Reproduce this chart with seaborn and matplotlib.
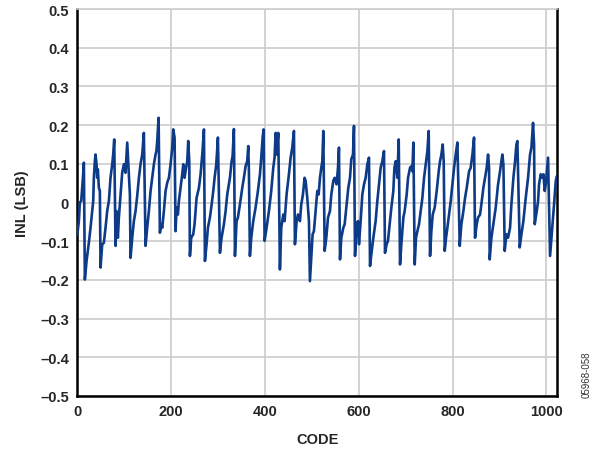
import matplotlib
matplotlib.use("Agg")
import matplotlib.pyplot as plt
import seaborn as sns
import pandas as pd
from matplotlib.ticker import FuncFormatter

# ---- data (vertices of the INL trace) ----
code = [
    0, 3.2, 5.3, 8.2, 10.3, 12.4, 13.9, 16,
    19.6, 22.4, 24.5, 28.1, 31.6, 33.8, 35.2, 37.3, 38.7, 40.9, 42.3, 43.7, 45.9, 48.0, 49.4,
    53.0, 56.5, 60.1, 63.6, 67.2, 70.7, 74.3, 76.4, 78.6, 81.4,
    83.5, 86.4, 88.5, 92.1, 95.6, 99.2, 102.7, 106.3, 108.4, 112.0, 113.4,
    117.0, 120.5, 124.1, 127.6, 131.2, 134.7, 138.3, 141.8, 145.4,
    148.9, 152.5, 156.1, 159.6, 163.2, 166.7, 168.5, 170.3, 173.2, 176.0,
    178.8, 181.0, 184.5, 188.1, 191.6, 195.2, 198.8, 202.3, 204.4, 207.3, 209.4,
    211.5, 214.4, 216.5, 220.1, 223.6, 225.8, 228.6, 230.7, 234.3, 236.4, 238.6, 240.0,
    242.8, 247.1, 249.9, 254.2, 259.2, 262.7, 266.3, 269.9, 272.0,
    275.5, 278.4, 282.6, 285.5, 289.8, 292.6, 296.2, 299.7, 304.0,
    307.5, 312.5, 316.1, 319.6, 325.3, 328.9, 331.0, 333.8, 336.0,
    339.5, 342.3, 346.6, 351.6, 355.1, 358.7, 362.2, 364.4, 365.8, 367.9,
    370.8, 375.0, 380.0, 385.0, 389.3, 392.1, 395.0, 397.1, 399.2,
    403.5, 408.5, 413.4, 417.7, 420.5, 422.7, 424.8, 428.4, 431.9,
    434.8, 439.0, 441.9, 446.1, 451.1, 454.7, 458.2, 461.8, 463.9,
    467.5, 470.3, 474.6, 477.4, 481.0, 484.5, 486.7, 490.2, 493.8, 495.9,
    498.8, 501.6, 504.4, 508.0, 511.6, 514.5, 517.3, 520.1, 522.3, 524.4, 527.3,
    530.8, 534.4, 538.6, 541.5, 545.7, 548.6, 552.8, 555.7, 557.8, 560.0,
    562.8, 567.1, 569.9, 574.2, 577.7, 581.3, 584.1, 587.7, 589.8, 592.0,
    595.5, 598.4, 600.5, 604.0, 607.6, 611.2, 614.7, 618.3, 621.8, 624.0,
    626.8, 631.1, 636.0, 639.6, 643.1, 646.7, 650.3, 653.8, 655.9,
    659.5, 662.3, 666.6, 669.5, 673.7, 676.0, 679.0, 682.3, 685.2, 688.0,
    690.8, 695.1, 697.9, 702.2, 705.1, 709.3, 712.2, 714.3, 716.4, 719.3,
    722.1, 725.0, 728.5, 732.1, 735.6, 739.2, 742.7, 746.3, 749.1, 752.0,
    754.8, 757.7, 761.9, 766.2, 770.5, 773.3, 776.2, 779.0, 781.1, 783.3,
    786.1, 789.0, 792.5, 796.1, 799.6, 803.2, 806.7, 810.3, 815.3,
    818.8, 823.1, 826.6, 830.2, 835.2, 838.7, 842.3, 844.4, 845.8, 847.9,
    851.5, 854.3, 858.6, 861.4, 865.7, 869.3, 872.8, 875.7, 877.8, 879.2,
    882.8, 887.0, 892.0, 897.0, 901.3, 904.1, 906.2, 908.4, 911.2,
    914.8, 918.3, 922.6, 925.4, 929.7, 933.3, 936.1, 938.2, 943.2,
    946.8, 951.0, 956.0, 961.0, 965.2, 968.1, 971.6, 973.8, 975.2,
    979.5, 982.3, 984.4, 988.0, 991.6, 993.7, 996.5, 998.7, 1003.6, 1007.9,
    1010.8, 1013.6, 1016.4, 1020.0, 1022.1,
]
inl = [
    -0.082, -0.048, 0.000, 0.004, 0.038, 0.073, 0.103, -0.199,
    -0.151, -0.125, -0.104, -0.065, -0.022, 0.004, 0.064, 0.107, 0.124, 0.099, 0.064, 0.086, 0.038, 0.030, -0.168,
    -0.108, -0.104, -0.065, -0.022, 0.004, 0.064, 0.099, 0.124, 0.163, -0.112,
    -0.022, -0.091, -0.039, 0.021, 0.077, 0.099, 0.077, 0.155, 0.107, 0.021, -0.143,
    -0.091, -0.048, -0.022, 0.017, 0.064, 0.099, 0.124, 0.180, -0.112,
    -0.065, -0.022, 0.030, 0.064, 0.099, 0.124, 0.133, 0.159, 0.219, -0.078,
    -0.056, -0.065, -0.022, 0.030, 0.051, 0.064, 0.099, 0.142, 0.189, 0.168, -0.074,
    -0.013, -0.031, 0.004, 0.038, 0.073, 0.099, 0.064, 0.081, 0.107, 0.159, 0.107, -0.138,
    -0.091, -0.082, -0.056, 0.012, 0.038, 0.073, 0.124, 0.189, -0.151,
    -0.108, -0.065, -0.039, -0.013, 0.030, 0.064, 0.099, 0.168, -0.130,
    -0.091, -0.056, -0.022, 0.021, 0.064, 0.107, 0.120, 0.190, -0.138,
    -0.048, -0.039, -0.005, 0.038, 0.064, 0.094, 0.107, 0.146, 0.081, -0.138,
    -0.091, -0.048, -0.013, 0.030, 0.073, 0.116, 0.168, 0.189, -0.099,
    -0.065, -0.022, 0.030, 0.090, 0.116, 0.180, 0.124, 0.180, -0.173,
    -0.065, -0.031, -0.048, 0.021, 0.073, 0.116, 0.142, 0.185, -0.108,
    -0.048, -0.031, -0.048, -0.005, 0.021, 0.064, 0.056, 0.012, -0.048, -0.203,
    -0.143, -0.082, -0.074, -0.022, 0.030, 0.021, 0.064, 0.090, 0.107, 0.185, -0.125,
    -0.091, -0.039, -0.022, 0.021, 0.056, 0.064, 0.047, 0.090, 0.142, -0.147,
    -0.091, -0.065, -0.056, -0.005, 0.038, 0.064, 0.112, 0.124, 0.198, -0.138,
    -0.056, -0.048, -0.108, -0.048, 0.021, 0.047, 0.064, 0.099, 0.116, -0.164,
    -0.134, -0.091, -0.048, 0.004, 0.047, 0.090, 0.107, 0.133, -0.130,
    -0.108, -0.099, -0.048, -0.013, 0.030, 0.090, 0.107, 0.064, 0.163, -0.160,
    -0.108, -0.039, -0.022, 0.021, 0.064, 0.090, 0.094, 0.081, 0.155, -0.160,
    -0.091, -0.074, -0.056, -0.022, 0.012, 0.064, 0.099, 0.133, 0.185, -0.138,
    -0.074, -0.031, -0.013, 0.030, 0.081, 0.107, 0.124, 0.150, 0.107, -0.125,
    -0.091, -0.065, -0.031, 0.004, 0.047, 0.090, 0.124, 0.155, -0.112,
    -0.056, -0.022, 0.012, 0.038, 0.081, 0.090, 0.124, 0.150, 0.168, -0.091,
    -0.056, -0.039, -0.031, -0.005, 0.038, 0.064, 0.090, 0.124, 0.090, -0.147,
    -0.091, -0.056, -0.013, 0.047, 0.081, 0.107, 0.124, 0.099, -0.125,
    -0.082, -0.091, -0.065, -0.005, 0.064, 0.107, 0.150, 0.159, -0.116,
    -0.082, -0.048, 0.012, 0.064, 0.124, 0.142, 0.206, 0.150, -0.056,
    -0.022, 0.004, 0.047, 0.073, 0.064, 0.073, 0.030, 0.047, 0.116, -0.138,
    -0.091, -0.048, -0.005, 0.055, 0.068,
]

x_ticks = [0, 200, 400, 600, 800, 1000]
y_ticks = [-0.5, -0.4, -0.3, -0.2, -0.1, 0, 0.1, 0.2, 0.3, 0.4, 0.5]

df = pd.DataFrame({"CODE": code, "INL": inl})

sns.set_theme(style="white")
plt.rcParams["font.family"] = ["Liberation Sans", "DejaVu Sans"]

fig = plt.figure(figsize=(6.02, 4.52), dpi=100)
ax = fig.add_axes([0.1285, 0.1217, 0.797, 0.856])

sns.lineplot(data=df, x="CODE", y="INL", ax=ax, color="#0d3b87",
             linewidth=1.9, estimator=None, sort=False, zorder=3)

ax.set_xlim(0, 1023)
ax.set_ylim(-0.5, 0.5)
ax.set_xticks(x_ticks)
ax.set_yticks(y_ticks)

def yfmt(v, pos):
    if abs(v) < 1e-9:
        return "0"
    s = f"{v:.1f}"
    return s.replace("-", "\u2013")

ax.yaxis.set_major_formatter(FuncFormatter(yfmt))
ax.grid(True, color="#cccccc", linewidth=1.2, zorder=0)
ax.set_axisbelow(True)

for side in ["left", "bottom", "right"]:
    ax.spines[side].set_color("black")
    ax.spines[side].set_linewidth(1.8)
ax.spines["top"].set_color("#cccccc")
ax.spines["top"].set_linewidth(1.2)

ax.tick_params(axis="both", length=0, pad=6, labelsize=10.5)
for lbl in ax.get_xticklabels() + ax.get_yticklabels():
    lbl.set_fontweight("bold")

ax.set_xlabel("CODE", fontsize=10.5, fontweight="bold", labelpad=10)
ax.set_ylabel("INL (LSB)", fontsize=10.5, fontweight="bold", labelpad=8)

fig.text(0.975, 0.17, "05968-058", rotation=90, fontsize=7, color="#333333",
         ha="center", va="center")

fig.savefig("out.png", dpi=100)
